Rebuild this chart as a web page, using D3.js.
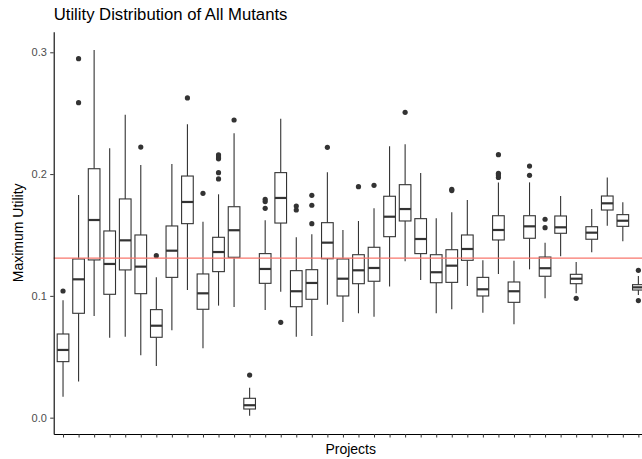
<html>
<head>
<meta charset="utf-8">
<script src="https://cdn.jsdelivr.net/npm/d3@7"></script>
<style>
  body { margin: 0; background: #fff; }
  text { font-family: "Liberation Sans", Arial, sans-serif; }
</style>
</head>
<body>
<div id="chart"></div>
<script>
// Data, one entry per project
var projects = d3.range(1, 39).map(function(i) { return "Project " + i; });
var lower  = [.0172,.0296,.0835,.0657,.0665,.0512,.0424,.0717,.1048,.0570,.0920,.0909,.0016,.0884,.1034,.0665,.0671,.0928,.0786,.0857,.0829,.1076,.1284,.1131,.0857,.0890,.1081,.0862,.1180,.0767,.1218,.0980,.1325,.1021,.1358,.1576,.1448,.1007];
var q1     = [.0460,.0857,.1295,.1013,.1213,.1018,.0660,.1152,.1593,.0890,.1199,.1317,.0071,.1103,.1598,.0911,.0972,.1305,.0999,.1100,.1120,.1486,.1615,.1347,.1108,.1111,.1292,.0999,.1459,.0947,.1473,.1161,.1514,.1100,.1465,.1705,.1571,.1048];
var median = [.0556,.1136,.1623,.1262,.1456,.1240,.0755,.1371,.1771,.1021,.1360,.1539,.0102,.1221,.1804,.1038,.1106,.1437,.1141,.1210,.1229,.1650,.1713,.1467,.1194,.1248,.1385,.1054,.1541,.1038,.1571,.1227,.1563,.1141,.1519,.1760,.1617,.1070];
var q3     = [.0687,.1303,.2044,.1533,.1796,.1500,.0887,.1574,.1984,.1180,.1481,.1732,.0159,.1347,.2012,.1207,.1215,.1601,.1303,.1338,.1399,.1818,.1913,.1634,.1338,.1379,.1500,.1152,.1658,.1114,.1658,.1319,.1656,.1177,.1568,.1820,.1667,.1092];
var upper  = [.0965,.1828,.3019,.2212,.2488,.2075,.1152,.2083,.2409,.1609,.1834,.2335,.0246,.1620,.2455,.1481,.1506,.2015,.1541,.1615,.1719,.2228,.2245,.2009,.1637,.1686,.1787,.1292,.1930,.1289,.1932,.1437,.1820,.1278,.1714,.1973,.1768,.1163];
var outliers = [
  [.104], [.2586,.2948], [], [], [], [.2222], [.133], [], [.2625], [.1842],
  [.196,.2012,.2125,.2140,.2157], [.2444], [.035], [.1719,.1774,.1793], [.0783],
  [.1705,.1738], [.1593,.1744,.1826], [.222], [], [.1897], [.1908], [], [.2507],
  [], [], [.1865,.1875], [], [], [.1973,.1993,.2006,.2159], [], [.199,.2066],
  [.156,.1629], [], [.098], [], [], [], [.0961,.121]
];
var refLine = 0.131;
var yTicks = [0, 0.1, 0.2, 0.3];

var boxes = projects.map(function(p, i) {
  return {name: p, lo: lower[i], q1: q1[i], med: median[i], q3: q3[i], hi: upper[i], out: outliers[i]};
});

// Setup
var width = 642, height = 459;
var plotLeft = 53.7, plotRight = 647.7, plotTop = 31.7, plotBottom = 434;
var svg = d3.select("#chart").append("svg")
  .attr("width", width)
  .attr("height", height);
svg.append("rect").attr("width", width).attr("height", height).attr("fill", "#fff");

var allVals = [];
boxes.forEach(function(b) { allVals.push(b.lo, b.hi); allVals = allVals.concat(b.out); });
var ext = d3.extent(allVals);
var pad = (ext[1] - ext[0]) * 0.05;

var x = d3.scalePoint().domain(projects).range([plotLeft, plotRight]).padding(0.6);
var y = d3.scaleLinear().domain([ext[0] - pad, ext[1] + pad]).range([plotBottom, plotTop]);
var boxW = x.step() * 0.75;
var ink = "#333333";

// Boxes
var g = svg.append("g").selectAll("g").data(boxes).enter().append("g");
g.append("line")
  .attr("x1", function(d) { return x(d.name); })
  .attr("x2", function(d) { return x(d.name); })
  .attr("y1", function(d) { return y(d.q3); })
  .attr("y2", function(d) { return y(d.hi); })
  .attr("stroke", ink).attr("stroke-width", 1.1);
g.append("line")
  .attr("x1", function(d) { return x(d.name); })
  .attr("x2", function(d) { return x(d.name); })
  .attr("y1", function(d) { return y(d.q1); })
  .attr("y2", function(d) { return y(d.lo); })
  .attr("stroke", ink).attr("stroke-width", 1.1);
g.append("rect")
  .attr("x", function(d) { return x(d.name) - boxW / 2; })
  .attr("width", boxW)
  .attr("y", function(d) { return y(d.q3); })
  .attr("height", function(d) { return y(d.q1) - y(d.q3); })
  .attr("fill", "#fff")
  .attr("stroke", ink).attr("stroke-width", 1.1);
g.append("line")
  .attr("x1", function(d) { return x(d.name) - boxW / 2; })
  .attr("x2", function(d) { return x(d.name) + boxW / 2; })
  .attr("y1", function(d) { return y(d.med); })
  .attr("y2", function(d) { return y(d.med); })
  .attr("stroke", ink).attr("stroke-width", 2.2);
g.selectAll("circle").data(function(d) { return d.out.map(function(v) { return {name: d.name, v: v}; }); })
  .enter().append("circle")
  .attr("cx", function(d) { return x(d.name); })
  .attr("cy", function(d) { return y(d.v); })
  .attr("r", 2.6)
  .attr("fill", ink);

// Reference line
svg.append("line")
  .attr("x1", plotLeft).attr("x2", plotRight)
  .attr("y1", y(refLine)).attr("y2", y(refLine))
  .attr("stroke", "#F8766D").attr("stroke-width", 1.2);

// Axes
var yAxis = svg.append("g")
  .attr("transform", "translate(" + plotLeft + ",0)")
  .call(d3.axisLeft(y).tickValues(yTicks).tickFormat(d3.format(".1f")).tickSize(3.5).tickSizeOuter(0).tickPadding(3.3));
var xAxis = svg.append("g")
  .attr("transform", "translate(0," + plotBottom + ")")
  .call(d3.axisBottom(x).tickFormat("").tickSize(3.5).tickSizeOuter(0));
[yAxis, xAxis].forEach(function(a) {
  a.select(".domain").attr("stroke", "#000").attr("stroke-width", 1.1);
  a.selectAll(".tick line").attr("stroke", ink).attr("stroke-width", 1);
  a.selectAll(".tick text")
    .attr("fill", "#4D4D4D")
    .style("font-size", "11px")
    .style("font-family", "'Liberation Sans', Arial, sans-serif");
});

// Titles
svg.append("text")
  .attr("x", plotLeft).attr("y", 20)
  .attr("font-size", "16.7px")
  .attr("fill", "#000")
  .text("Utility Distribution of All Mutants");
svg.append("text")
  .attr("x", (plotLeft + plotRight) / 2).attr("y", 454)
  .attr("text-anchor", "middle")
  .attr("font-size", "14px")
  .text("Projects");
svg.append("text")
  .attr("transform", "translate(23," + ((plotTop + plotBottom) / 2) + ") rotate(-90)")
  .attr("text-anchor", "middle")
  .attr("font-size", "14px")
  .text("Maximum Utility");
</script>
</body>
</html>
